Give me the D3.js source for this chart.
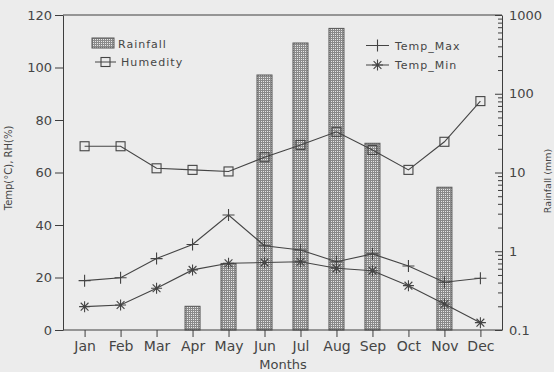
<!DOCTYPE html>
<html>
<head>
<meta charset="utf-8">
<script src="https://cdn.jsdelivr.net/npm/d3@7/dist/d3.min.js"></script>
<style>
  html, body { margin: 0; padding: 0; background: #ececec; }
  svg { display: block; }
  text { font-family: "DejaVu Sans", sans-serif; fill: #454545; }
</style>
</head>
<body>
<svg id="chart" width="554" height="372"></svg>
<script>
// Monthly climate data
const months = ["Jan", "Feb", "Mar", "Apr", "May", "Jun", "Jul", "Aug", "Sep", "Oct", "Nov", "Dec"];
const tempMax = [18.8, 19.9, 27.2, 32.6, 43.8, 32.1, 30.5, 26.0, 29.0, 24.4, 18.2, 19.7];
const tempMin = [8.9, 9.5, 15.9, 22.9, 25.4, 25.7, 26.0, 23.5, 22.6, 16.9, 9.9, 2.8];
const humidity = [70.0, 70.0, 61.6, 61.0, 60.4, 65.8, 70.5, 75.5, 68.6, 61.0, 71.7, 87.2];
const rainfall = [null, null, null, 0.2, 0.7, 173, 441, 676, 23.5, null, 6.5, null];

const leftTicks = [0, 20, 40, 60, 80, 100, 120];
const rightTicks = [0.1, 1, 10, 100, 1000];
const rightTickLabels = ["0.1", "1", "10", "100", "1000"];

const svg = d3.select("#chart");
const ink = "#3e3e3e";

const plot = { left: 63, right: 502, top: 15, bottom: 330 };

const x = d3.scalePoint().domain(months).range([plot.left, plot.right]).padding(0.6);
const yL = d3.scaleLinear().domain([0, 120]).range([plot.bottom, plot.top]);
const yR = d3.scaleLog().domain([0.1, 1000]).range([plot.bottom, plot.top]);

// Fine grid hatch used for rainfall bars
const defs = svg.append("defs");
const pat = defs.append("pattern").attr("id", "grid")
  .attr("patternUnits", "userSpaceOnUse").attr("width", 2).attr("height", 2);
pat.append("rect").attr("width", 2).attr("height", 2).attr("fill", "#e6e6e6");
pat.append("rect").attr("width", 2).attr("height", 1).attr("fill", "#8a8a8a");
pat.append("rect").attr("width", 1).attr("height", 2).attr("fill", "#8a8a8a");

// Rainfall bars (log scale, right axis)
const barW = 15;
svg.append("g").selectAll("rect")
  .data(months.map((m, i) => ({ m, v: rainfall[i] })).filter(d => d.v != null))
  .join("rect")
  .attr("x", d => x(d.m) - barW / 2)
  .attr("width", barW)
  .attr("y", d => yR(d.v))
  .attr("height", d => yR(0.1) - yR(d.v))
  .attr("fill", "url(#grid)")
  .attr("stroke", "#555")
  .attr("stroke-width", 1);

// Frame
svg.append("line").attr("x1", plot.left).attr("x2", plot.right)
  .attr("y1", plot.top).attr("y2", plot.top).attr("stroke", ink);

// Left axis
const gL = svg.append("g").attr("transform", `translate(${plot.left},0)`)
  .call(d3.axisLeft(yL).tickValues(leftTicks).tickSizeInner(8).tickSizeOuter(0).tickPadding(3));
gL.selectAll("text").attr("font-size", 13);

// Right log axis: major ticks
const gR = svg.append("g").attr("transform", `translate(${plot.right},0)`)
  .call(d3.axisRight(yR).tickValues(rightTicks).tickFormat((d, i) => rightTickLabels[i])
    .tickSizeInner(-7).tickSizeOuter(0).tickPadding(7));
gR.selectAll("text").attr("font-size", 13);

// Right log axis: minor ticks
const minor = [];
for (let dec = 0.1; dec < 1000; dec *= 10) {
  for (let k = 2; k <= 9; k++) minor.push(+(dec * k).toPrecision(3));
}
svg.append("g").attr("transform", `translate(${plot.right},0)`)
  .call(d3.axisRight(yR).tickValues(minor).tickFormat("").tickSizeInner(-4).tickSizeOuter(0))
  .select(".domain").remove();

// Bottom axis
const gB = svg.append("g").attr("transform", `translate(0,${plot.bottom})`)
  .call(d3.axisBottom(x).tickSizeInner(7).tickSizeOuter(0).tickPadding(4));
gB.select(".domain").attr("d", `M${plot.left},0H${plot.right}`);
gB.selectAll("text").attr("font-size", 14);

svg.selectAll(".domain, .tick line").attr("stroke", ink);
svg.selectAll(".tick text").style("fill", "#454545");

// Axis titles
svg.append("text").attr("transform", "translate(12,168) rotate(-90)")
  .attr("text-anchor", "middle").attr("font-size", 10).text("Temp(°C), RH(%)");
svg.append("text").attr("transform", "translate(551,181) rotate(-90)")
  .attr("text-anchor", "middle").attr("font-size", 9.5).text("Rainfall (mm)");
svg.append("text").attr("x", 283).attr("y", 369)
  .attr("text-anchor", "middle").attr("font-size", 13).text("Months");

// Line series
const line = d3.line().x((d, i) => x(months[i])).y(d => yL(d));
function series(values) {
  svg.append("path").datum(values).attr("d", line)
    .attr("fill", "none").attr("stroke", "#444").attr("stroke-width", 1.1);
}
series(humidity);
series(tempMax);
series(tempMin);

function square(g, cx, cy) {
  g.append("rect").attr("x", cx - 4.5).attr("y", cy - 4.5).attr("width", 9).attr("height", 9)
    .attr("fill", "none").attr("stroke", "#444").attr("stroke-width", 1.1);
}
function plus(g, cx, cy) {
  g.append("path").attr("d", `M${cx - 6},${cy}H${cx + 6}M${cx},${cy - 6}V${cy + 6}`)
    .attr("stroke", "#444").attr("stroke-width", 1.1);
}
function star(g, cx, cy) {
  const r = 5.5, a = r * 0.7071;
  g.append("path").attr("d",
    `M${cx - r},${cy}H${cx + r}M${cx},${cy - r}V${cy + r}` +
    `M${cx - a},${cy - a}L${cx + a},${cy + a}M${cx - a},${cy + a}L${cx + a},${cy - a}`)
    .attr("stroke", "#444").attr("stroke-width", 1.1);
}

const gm = svg.append("g");
humidity.forEach((v, i) => square(gm, x(months[i]), yL(v)));
tempMax.forEach((v, i) => plus(gm, x(months[i]), yL(v)));
tempMin.forEach((v, i) => star(gm, x(months[i]), yL(v)));

// Legends
const lg = svg.append("g");
lg.append("rect").attr("x", 92).attr("y", 38).attr("width", 22).attr("height", 10)
  .attr("fill", "url(#grid)").attr("stroke", "#555");
lg.append("text").attr("x", 118).attr("y", 47.5).attr("font-size", 11)
  .attr("letter-spacing", 1).text("Rainfall");
lg.append("line").attr("x1", 95).attr("x2", 116).attr("y1", 62).attr("y2", 62).attr("stroke", "#444");
square(lg, 105.5, 62);
lg.append("text").attr("x", 121).attr("y", 66).attr("font-size", 11)
  .attr("letter-spacing", 1.1).text("Humedity");

lg.append("line").attr("x1", 366).attr("x2", 389).attr("y1", 45.5).attr("y2", 45.5).attr("stroke", "#444");
plus(lg, 377.5, 45.5);
lg.append("text").attr("x", 395).attr("y", 49.5).attr("font-size", 11)
  .attr("letter-spacing", 1).text("Temp_Max");
lg.append("line").attr("x1", 366).attr("x2", 389).attr("y1", 65).attr("y2", 65).attr("stroke", "#444");
star(lg, 377.5, 65);
lg.append("text").attr("x", 395).attr("y", 69).attr("font-size", 11)
  .attr("letter-spacing", 1).text("Temp_Min");
</script>
</body>
</html>
